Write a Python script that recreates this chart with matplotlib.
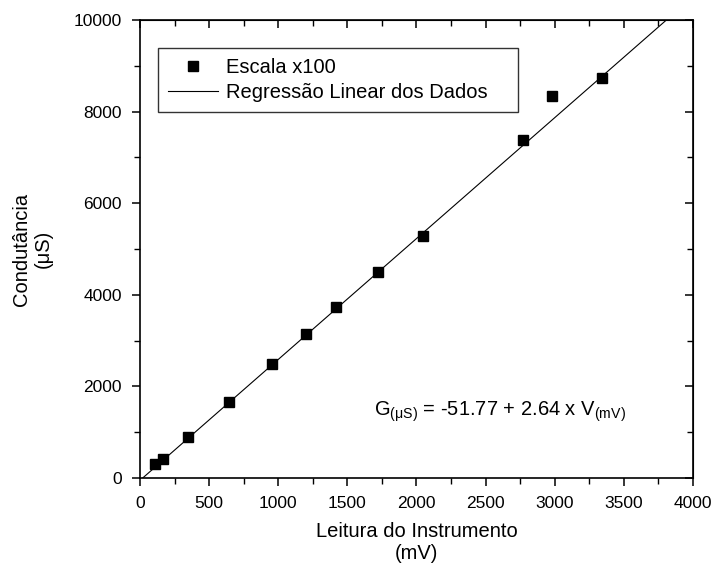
import numpy as np
import matplotlib.pyplot as plt

plt.rcParams['font.family'] = ['Liberation Sans', 'DejaVu Sans']
plt.rcParams['mathtext.fontset'] = 'custom'
plt.rcParams['mathtext.rm'] = 'Liberation Sans'
plt.rcParams['mathtext.it'] = 'Liberation Sans'

# leitura do instrumento (mV) x condutancia (uS)
leitura = [108, 164, 345, 642, 957, 1198, 1418, 1721, 2045, 2772, 2982, 3339]
condut = [299, 421, 895, 1666, 2489, 3144, 3727, 4498, 5284, 7380, 8347, 8727]
intercepto = -51.77
inclinacao = 2.64

xticks = [0, 500, 1000, 1500, 2000, 2500, 3000, 3500, 4000]
yticks = [0, 2000, 4000, 6000, 8000, 10000]

fig = plt.figure(figsize=(7.16, 5.70), dpi=100)
ax = fig.add_axes([0.1955, 0.1614, 0.7724, 0.8035])

xr = np.linspace(0, 4000, 200)
ax.plot(leitura, condut, 's', color='black', markersize=7, label='Escala x100')
ax.plot(xr, intercepto + inclinacao * xr, '-', color='black', linewidth=0.8,
        label='Regressão Linear dos Dados')

ax.set_xlim(0, 4000)
ax.set_ylim(0, 10000)
ax.set_xticks(xticks)
ax.set_yticks(yticks)
ax.set_xticks(np.arange(250, 4000, 500), minor=True)
ax.set_yticks(np.arange(1000, 10000, 2000), minor=True)
ax.tick_params(which='major', direction='out', length=6, width=1.1, labelsize=12.5, pad=7)
ax.tick_params(which='minor', direction='out', length=4, width=1.0)
for s in ax.spines.values():
    s.set_linewidth(1.2)

# ticks espelhados (para dentro) no topo e na direita
top = ax.secondary_xaxis('top')
top.set_xticks(xticks)
top.set_xticks(np.arange(250, 4000, 500), minor=True)
top.tick_params(which='major', direction='in', length=6, width=1.1, labeltop=False)
top.tick_params(which='minor', direction='in', length=4, width=1.0)
right = ax.secondary_yaxis('right')
right.set_yticks(yticks)
right.set_yticks(np.arange(1000, 10000, 2000), minor=True)
right.tick_params(which='major', direction='in', length=6, width=1.1, labelright=False)
right.tick_params(which='minor', direction='in', length=4, width=1.0)

ax.set_xlabel('Leitura do Instrumento\n(mV)', fontsize=14.5, labelpad=8)
ax.set_ylabel('Condutância\n(μS)', fontsize=14.5, labelpad=15)

leg = ax.legend(loc='upper left', bbox_to_anchor=(0.0325, 0.0, 0.651, 0.939),
                mode='expand', fontsize=14.5, frameon=True, fancybox=False,
                borderaxespad=0, handlelength=2.5, handletextpad=0.4,
                borderpad=0.5, labelspacing=0.3)
leg.get_frame().set_edgecolor('black')
leg.get_frame().set_linewidth(1.0)

ax.text(1690, 1370, r'G$_{\mathrm{(\mu S)}}$ = -51.77 + 2.64 x V$_{\mathrm{(mV)}}$',
        fontsize=14.5, ha='left', va='baseline')

fig.savefig('out.png', dpi=100)
